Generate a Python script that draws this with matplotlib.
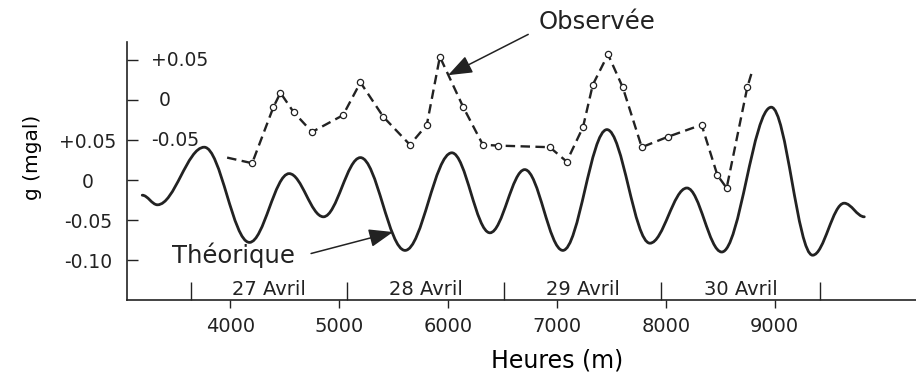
import matplotlib
matplotlib.use("Agg")
import matplotlib.pyplot as plt
import matplotlib.transforms as mtransforms
from matplotlib.patches import PathPatch
from matplotlib.path import Path

# Marée théorique : points de retournement (minutes, mgal)
THEO_T = [3190, 3330, 3760, 4175, 4540, 4855, 5195, 5605, 6035, 6385,
          6705, 7055, 7460, 7855, 8195, 8515, 8970, 9350, 9640, 9825]
THEO_G = [-0.019, -0.031, 0.041, -0.078, 0.008, -0.046, 0.028, -0.088, 0.034, -0.066,
          0.013, -0.088, 0.063, -0.079, -0.010, -0.090, 0.091, -0.094, -0.029, -0.046]

# Mesures observées (minutes, mgal), tracées avec un décalage vertical
OBS_T = [3970, 4200, 4395, 4460, 4580, 4750, 5035, 5195, 5405, 5650,
         5805, 5925, 6140, 6320, 6460, 6935, 7090, 7240, 7330, 7470,
         7605, 7780, 8020, 8330, 8475, 8560, 8750, 8790]
OBS_G = [-0.072, -0.079, -0.009, 0.009, -0.015, -0.040, -0.019, 0.022, -0.021, -0.056,
         -0.031, 0.054, -0.009, -0.056, -0.057, -0.059, -0.077, -0.034, 0.019, 0.057,
         0.016, -0.059, -0.046, -0.031, -0.094, -0.110, 0.016, 0.034]
OBS_SHIFT = 0.10

X_TICKS = [4000, 5000, 6000, 7000, 8000, 9000]
DAY_EDGES = [3635, 5075, 6515, 7960, 9420]
DAY_NAMES = ["27 Avril", "28 Avril", "29 Avril", "30 Avril"]

Y_TICKS = [0.15, 0.10, 0.05, 0.0, -0.05, -0.10]
THEO_LABELS = ["", "", "+0.05", "0", "-0.05", "-0.10"]
OBS_TICKS = [0.05, 0.0, -0.05]
OBS_LABELS = ["+0.05", "0", "-0.05"]

INK = "#222222"


def turning_path(xs, ys, k=0.363):
    # cubic segments with flat tangents at each turning point
    verts = [(xs[0], ys[0])]
    codes = [Path.MOVETO]
    for x0, y0, x1, y1 in zip(xs[:-1], ys[:-1], xs[1:], ys[1:]):
        d = (x1 - x0) * k
        verts += [(x0 + d, y0), (x1 - d, y1), (x1, y1)]
        codes += [Path.CURVE4] * 3
    return Path(verts, codes)


plt.rcParams["font.family"] = ["DejaVu Sans"]
plt.rcParams["text.color"] = INK

fig = plt.figure(figsize=(9.16, 3.74), dpi=100)
ax = fig.add_axes([127 / 916, 74 / 374, 789 / 916, 258 / 374])

ax.add_patch(PathPatch(turning_path(THEO_T, THEO_G), fill=False,
                       edgecolor=INK, lw=2.0, capstyle="round", joinstyle="round"))

obs_y = [g + OBS_SHIFT for g in OBS_G]
ax.plot(OBS_T, obs_y, color=INK, lw=1.7, ls=(0, (4, 2.3)),
        marker="o", ms=4.5, mfc="white", mec=INK, mew=0.9,
        markevery=slice(1, -1))

ax.set_xlim(3050, 10300)
ax.set_ylim(-0.15, 0.1725)

for side in ("top", "right"):
    ax.spines[side].set_visible(False)
for side in ("left", "bottom"):
    ax.spines[side].set_color(INK)
    ax.spines[side].set_linewidth(1.2)

ax.set_xticks(X_TICKS)
ax.set_xticklabels([str(t) for t in X_TICKS])
ax.set_xticks(DAY_EDGES, minor=True)
ax.tick_params(axis="x", which="major", direction="out", length=6, width=1,
               pad=6, labelsize=14, colors=INK)
ax.tick_params(axis="x", which="minor", direction="in", length=13, width=1,
               colors=INK)

ax.set_yticks(Y_TICKS)
ax.set_yticklabels(THEO_LABELS)
ax.tick_params(axis="y", direction="in", length=8, width=1, pad=28,
               labelsize=13.5, colors=INK)
for lab in ax.get_yticklabels():
    lab.set_horizontalalignment("center")

# observed scale written inside the axis
ytrans = mtransforms.blended_transform_factory(ax.transAxes, ax.transData)
for v, txt in zip(OBS_TICKS, OBS_LABELS):
    x0 = 0.040 if txt == "0" else 0.031
    ax.text(x0, v + OBS_SHIFT, txt, transform=ytrans, ha="left", va="center",
            fontsize=13.5)

# day names between the day separators
xtrans = mtransforms.blended_transform_factory(ax.transData, ax.transAxes)
for a, b, name in zip(DAY_EDGES[:-1], DAY_EDGES[1:], DAY_NAMES):
    ax.text((a + b) / 2, 0.04, name, transform=xtrans, ha="center", va="center",
            fontsize=14)

ax.set_xlabel("Heures (m)", fontsize=17)
ax.xaxis.set_label_coords(0.545, -0.233)
ax.xaxis.label.set_va("center")
ax.set_ylabel("g (mgal)", fontsize=14.5)
ax.yaxis.set_label_coords(-0.120, 0.554)
ax.yaxis.label.set_va("center")

ax.annotate("Observée", xy=(6000, 0.131), xytext=(7367, 0.1975),
            ha="center", va="center", fontsize=17.5, annotation_clip=False,
            arrowprops=dict(arrowstyle="-|>,head_length=0.85,head_width=0.32",
                            color=INK, lw=1.1, shrinkA=6, shrinkB=0,
                            relpos=(0.0, 0.2)))
ax.annotate("Théorique", xy=(5495, -0.065), xytext=(4028, -0.094),
            ha="center", va="center", fontsize=17.5, annotation_clip=False,
            arrowprops=dict(arrowstyle="-|>,head_length=0.85,head_width=0.32",
                            color=INK, lw=1.1, shrinkA=10, shrinkB=0,
                            relpos=(1.0, 0.4)))

fig.savefig("out.png", dpi=100)
